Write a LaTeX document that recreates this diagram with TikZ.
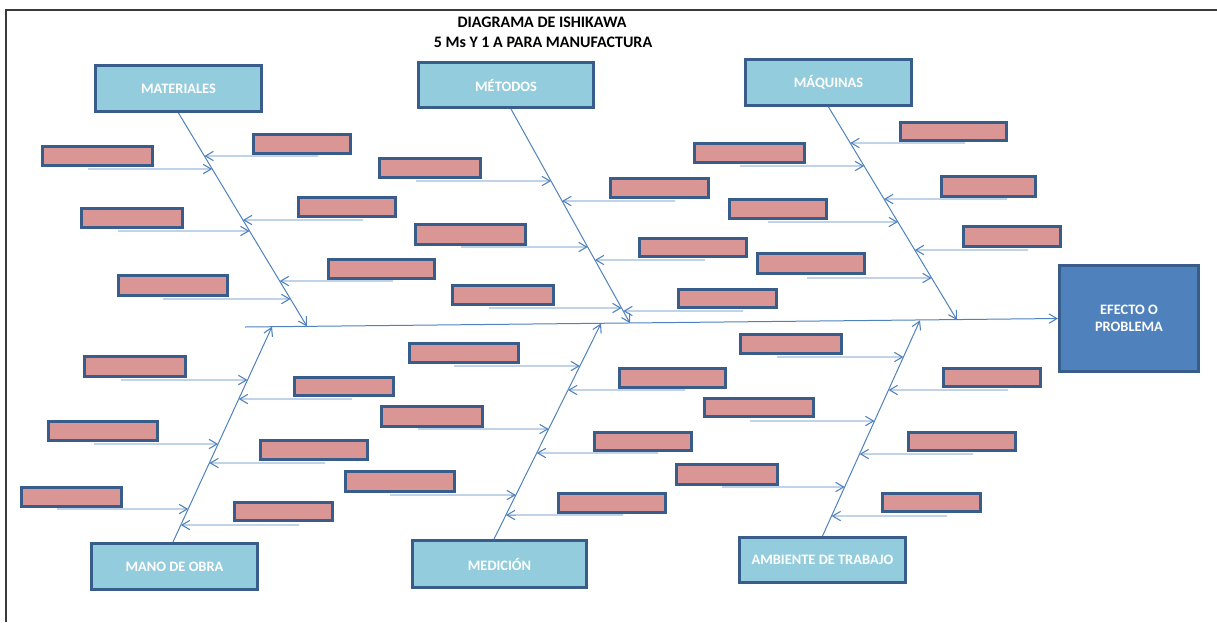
\documentclass[tikz,border=0pt]{standalone}
\usepackage{fontspec}
\setmainfont{Carlito}
\usetikzlibrary{arrows.meta,calc}

\definecolor{catfill}{HTML}{93CDDD}
\definecolor{boxline}{HTML}{385D8A}
\definecolor{causefill}{HTML}{D99694}
\definecolor{effectfill}{HTML}{4F81BD}
\definecolor{bonecol}{HTML}{4F81BD}
\definecolor{framecol}{HTML}{3A3A3A}

\tikzset{
  catnode/.style={draw=boxline, line width=2.2pt, fill=catfill, inner sep=0pt,
    text=white, font=\fontsize{10.8}{12.75}\selectfont\bfseries, align=center},
  effnode/.style={catnode, fill=effectfill},
  causenode/.style={draw=boxline, line width=2pt, fill=causefill, inner sep=0pt},
  boneline/.style={draw=bonecol, line width=0.75pt, -{Straight Barb[length=6pt,width=7pt,line width=0.8pt]}},
  twigline/.style={draw=bonecol, line width=0.7pt, -{Straight Barb[length=6pt,width=7pt,line width=0.8pt]}},
  titletext/.style={font=\fontsize{12}{14}\selectfont\bfseries, inner sep=0pt},
}

% category / effect box: name, x1, y1, x2, y2 (outer edges, px), label, style
\newcommand\catbox[7]{%
  \node[#7, minimum width={(#4-#2)*0.75pt-2.2pt}, minimum height={(#5-#3)*0.75pt-2.2pt}]
    (#1) at ({(#2+#4)/2},{(#3+#5)/2}) {#6};}

% cause box with its arrow onto a bone:
% name, x1, y1, x2, y2, arrow start x, arrow y, bone start, bone end
\newcommand\twig[9]{%
  \coordinate (#1-s) at (#6,#7);
  \coordinate (#1-t) at (intersection of #8--#9 and 0,#7--10,#7);
  \draw[twigline] (#1-s) -- (#1-t);
  \node[causenode, minimum width={(#4-#2)*0.75pt-2pt}, minimum height={(#5-#3)*0.75pt-2pt}]
    (#1) at ({(#2+#4)/2},{(#3+#5)/2}) {};}

\begin{document}
\begin{tikzpicture}[x=0.75pt, y=-0.75pt]
\useasboundingbox (0,0) rectangle (1217,622);

% sheet edge
\draw[framecol, line width=1pt] (6,622) -- (6,10) -- (1217,10);

% title
\node[titletext] (title1) at (542,22) {DIAGRAMA DE ISHIKAWA};
\node[titletext] (title2) at (543,42) {5 Ms Y 1 A PARA MANUFACTURA};

% main boxes
\catbox{mat}{94}{64}{263}{113}{MATERIALES}{catnode}
\catbox{met}{417}{61}{595}{109}{MÉTODOS}{catnode}
\catbox{maq}{744}{58}{913}{107}{MÁQUINAS}{catnode}
\catbox{mob}{90}{542}{259}{591}{MANO DE OBRA}{catnode}
\catbox{med}{411}{539}{588}{589}{MEDICIÓN}{catnode}
\catbox{amb}{738}{536}{907}{584}{AMBIENTE DE TRABAJO}{catnode}
\catbox{eff}{1058}{264}{1200}{373}{EFECTO O\\PROBLEMA}{effnode}

% spine
\coordinate (sp0) at (245,327);
\draw[boneline] (sp0) -- (eff.west);

% bones
\coordinate (matT) at (mat.south);
\coordinate (metT) at ($(met.south)+(5,0)$);
\coordinate (maqT) at (maq.south);
\coordinate (mobT) at ($(mob.north)+(-1.5,0)$);
\coordinate (medT) at ($(med.north)+(-5.5,0)$);
\coordinate (ambT) at (amb.north);
\coordinate (matE) at (307,326.4);
\coordinate (metE) at (630,323.2);
\coordinate (maqE) at (957,320.0);
\coordinate (mobE) at (272,326.7);
\coordinate (medE) at (601,323.5);
\coordinate (ambE) at (920,320.3);
\draw[boneline] (matT) -- (matE);
\draw[boneline] (metT) -- (metE);
\draw[boneline] (maqT) -- (maqE);
\draw[boneline] (mobT) -- (mobE);
\draw[boneline] (medT) -- (medE);
\draw[boneline] (ambT) -- (ambE);

% causes: MATERIALES
\twig{a1}{41}{145}{154}{167}{88}{169}{matT}{matE}
\twig{a2}{80}{207}{184}{229}{118}{231}{matT}{matE}
\twig{a3}{117}{274}{229}{297}{163}{299}{matT}{matE}
\twig{a4}{252}{133}{352}{155}{318}{156}{matT}{matE}
\twig{a5}{297}{196}{397}{218}{363}{220}{matT}{matE}
\twig{a6}{327}{258}{436}{280}{393}{281}{matT}{matE}

% causes: MÉTODOS
\twig{b1}{378}{157}{482}{179}{416}{181}{metT}{metE}
\twig{b2}{414}{223}{527}{246}{461}{247}{metT}{metE}
\twig{b3}{451}{284}{555}{306}{489}{308}{metT}{metE}
\twig{b4}{609}{177}{710}{199}{675}{201}{metT}{metE}
\twig{b5}{638}{237}{748}{258}{705}{260}{metT}{metE}
\twig{b6}{677}{288}{778}{309}{743}{311}{metT}{metE}

% causes: MÁQUINAS
\twig{c1}{693}{142}{806}{164}{740}{166}{maqT}{maqE}
\twig{c2}{728}{198}{828}{220}{768}{222}{maqT}{maqE}
\twig{c3}{756}{252}{866}{275}{807}{278}{maqT}{maqE}
\twig{c4}{899}{121}{1008}{142}{965}{143}{maqT}{maqE}
\twig{c5}{940}{175}{1037}{198}{1007}{199}{maqT}{maqE}
\twig{c6}{962}{225}{1062}{248}{1028}{250}{maqT}{maqE}

% causes: MANO DE OBRA
\twig{d1}{83}{355}{187}{378}{121}{380}{mobT}{mobE}
\twig{d2}{47}{420}{159}{442}{94}{444}{mobT}{mobE}
\twig{d3}{20}{486}{123}{508}{57}{509}{mobT}{mobE}
\twig{d4}{293}{376}{395}{397}{352}{399}{mobT}{mobE}
\twig{d5}{259}{439}{369}{461}{325}{463}{mobT}{mobE}
\twig{d6}{233}{501}{334}{522}{299}{525}{mobT}{mobE}

% causes: MEDICIÓN
\twig{e1}{408}{342}{520}{364}{454}{366}{medT}{medE}
\twig{e2}{380}{405}{484}{428}{418}{429}{medT}{medE}
\twig{e3}{344}{470}{456}{493}{390}{495}{medT}{medE}
\twig{e4}{618}{367}{727}{389}{685}{390}{medT}{medE}
\twig{e5}{593}{431}{693}{452}{658}{453}{medT}{medE}
\twig{e6}{557}{492}{667}{514}{623}{515}{medT}{medE}

% causes: AMBIENTE DE TRABAJO
\twig{f1}{739}{333}{843}{355}{777}{357}{ambT}{ambE}
\twig{f2}{703}{397}{815}{418}{750}{421}{ambT}{ambE}
\twig{f3}{675}{463}{779}{486}{722}{487}{ambT}{ambE}
\twig{f4}{942}{367}{1042}{388}{1008}{390}{ambT}{ambE}
\twig{f5}{907}{431}{1017}{452}{973}{454}{ambT}{ambE}
\twig{f6}{881}{492}{982}{513}{947}{516}{ambT}{ambE}
\end{tikzpicture}
\end{document}
